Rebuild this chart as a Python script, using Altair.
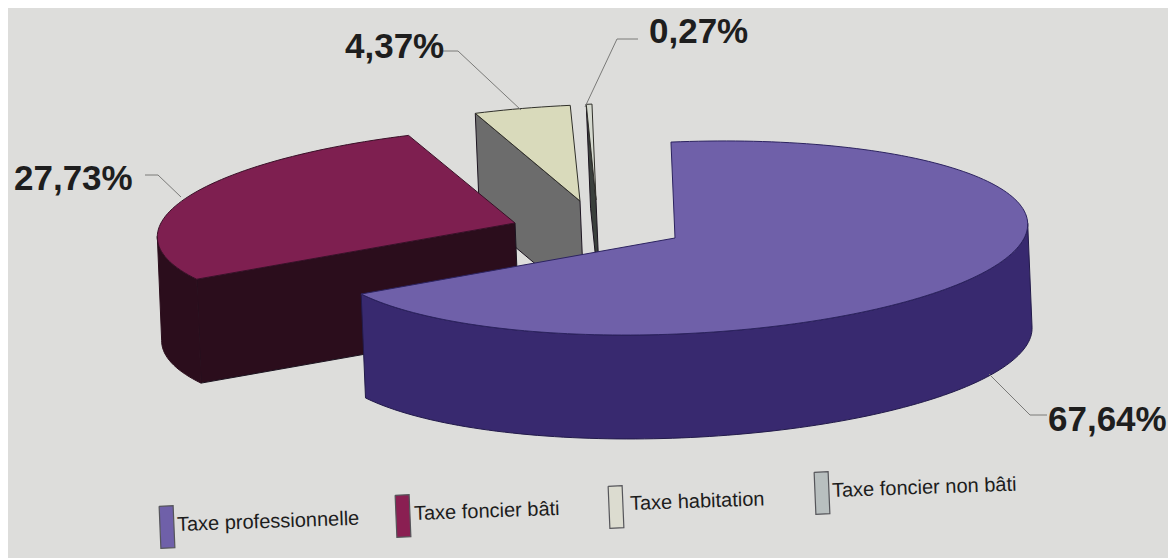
import math
import altair as alt
import pandas as pd

# --- chart values ---------------------------------------------------------
categories = ["Taxe professionnelle", "Taxe foncier bâti", "Taxe habitation", "Taxe foncier non bâti"]
shares = [67.64, 27.73, 4.37, 0.27]
value_labels = ["67,64%", "27,73%", "4,37%", "0,27%"]

# --- appearance -----------------------------------------------------------
BG = "#dddddb"
top_colors = ["#6f60a9", "#7e1f50", "#d9dabb", "#d6dad0"]
side_colors = ["#38296f", "#2b0d1c", "#6c6c6c", "#3a403c"]
swatch_colors = ["#6f60a9", "#8a1f52", "#dcdcd0", "#b8bfbf"]
centers = [(675, 238), (515, 223), (580, 201), (596, 200)]
radii_x = [353, 358, 352, 352]
RY = 96
DEPTH = 104
TILT = math.radians(-2.4)
label_pos = [(1048, 431), (14, 190), (345, 58), (649, 43)]
leaders = [
    [(989, 374), (1030, 415), (1047, 415)],
    [(145, 175), (158, 175), (181, 197)],
    [(443, 51), (458, 51), (521, 110)],
    [(638, 39), (617, 39), (585, 107)],
]
swatch_centers = [(167, 527), (403, 516), (616, 507), (822, 493)]
legend_text_pos = [(177, 525), (414, 514), (630, 504), (832, 491)]


def rot(x, y):
    return (x * math.cos(TILT) - y * math.sin(TILT), y * math.cos(TILT) + x * math.sin(TILT))


def rim(i, t, drop=0.0):
    a = math.radians(t)
    x, y = rot(radii_x[i] * math.sin(a), -RY * math.cos(a) + drop)
    return (centers[i][0] + x, centers[i][1] + y)


def hub(i, drop=0.0):
    x, y = rot(0.0, drop)
    return (centers[i][0] + x, centers[i][1] + y)


def arc(i, t0, t1, drop=0.0):
    n = max(2, int(abs(t1 - t0) / 1.5) + 1)
    return [rim(i, t0 + (t1 - t0) * k / (n - 1), drop) for k in range(n)]


X = alt.X("px:Q", scale=alt.Scale(domain=[8, 1168], nice=False, zero=False), axis=None)
Y = alt.Y("py:Q", scale=alt.Scale(domain=[558, 8], nice=False, zero=False), axis=None)


def polygon(points, fill, stroke, width=1.0):
    pts = list(points) + [points[0]]
    df = pd.DataFrame({"px": [p[0] for p in pts], "py": [p[1] for p in pts], "k": range(len(pts))})
    return alt.Chart(df).mark_line(fill=fill, stroke=stroke, strokeWidth=width, interpolate="linear", clip=False).encode(
        x=X, y=Y, order="k:Q"
    )


def polyline(points, color, width=1.0):
    df = pd.DataFrame({"px": [p[0] for p in points], "py": [p[1] for p in points], "k": range(len(points))})
    return alt.Chart(df).mark_line(stroke=color, strokeWidth=width).encode(x=X, y=Y, order="k:Q")


# slice angles come from the values
bounds = [0.0]
for s in shares:
    bounds.append(bounds[-1] + s * 3.6)
bounds[-1] = 360.0
spans = list(zip(bounds[:-1], bounds[1:]))

layers = []

# back to front: non bati sliver, habitation, bati, professionnelle
for i in [3, 2, 1, 0]:
    t0, t1 = spans[i]
    # radial cut face at the start of the slice
    if i > 0:
        face = [rim(i, t0), hub(i), hub(i, DEPTH), rim(i, t0, DEPTH)]
        layers.append(polygon(face, side_colors[i], "#1c1420"))
    # visible outer wall
    if i == 0:
        wall = arc(i, 90, t1) + arc(i, t1, 90, DEPTH)
        layers.append(polygon(wall, side_colors[i], "#221a4a"))
    if i == 1:
        wall = arc(i, t0, 271) + arc(i, 271, t0, DEPTH)
        layers.append(polygon(wall, side_colors[i], side_colors[i]))
    # top surface
    top = [hub(i)] + arc(i, t0, t1)
    edge = {0: "#2c2360", 1: "#3a1028", 2: "#30302a", 3: "#30302a"}[i]
    layers.append(polygon(top, top_colors[i], edge))

# leader lines
for pts in leaders:
    layers.append(polyline(pts, "#7a7a78", 1.0))

# value labels
vl = pd.DataFrame({"px": [p[0] for p in label_pos], "py": [p[1] for p in label_pos], "t": value_labels})
layers.append(
    alt.Chart(vl)
    .mark_text(font="Liberation Sans", fontWeight="bold", fontSize=35, align="left", baseline="alphabetic", color="#1e1e1e")
    .encode(x=X, y=Y, text="t:N")
)

# legend swatches
for (cx, cy), col in zip(swatch_centers, swatch_colors):
    corners = [rot(-7, -21), rot(7, -21), rot(7, 21), rot(-7, 21)]
    layers.append(polygon([(cx + a, cy + b) for a, b in corners], col, "#55555a", 1.2))

# legend labels
lg = pd.DataFrame({"px": [p[0] for p in legend_text_pos], "py": [p[1] for p in legend_text_pos], "t": categories})
layers.append(
    alt.Chart(lg)
    .mark_text(font="Liberation Sans", fontSize=20, align="left", baseline="middle", angle=358, color="#1c1c1c")
    .encode(x=X, y=Y, text="t:N")
)

chart = (
    alt.layer(*layers)
    .properties(width=1160, height=550, padding=0, background=BG, autosize=alt.AutoSizeParams(type="none"))
    .configure_view(stroke=None)
)

chart.save("out.html", embed_options={"renderer": "svg", "actions": False})
